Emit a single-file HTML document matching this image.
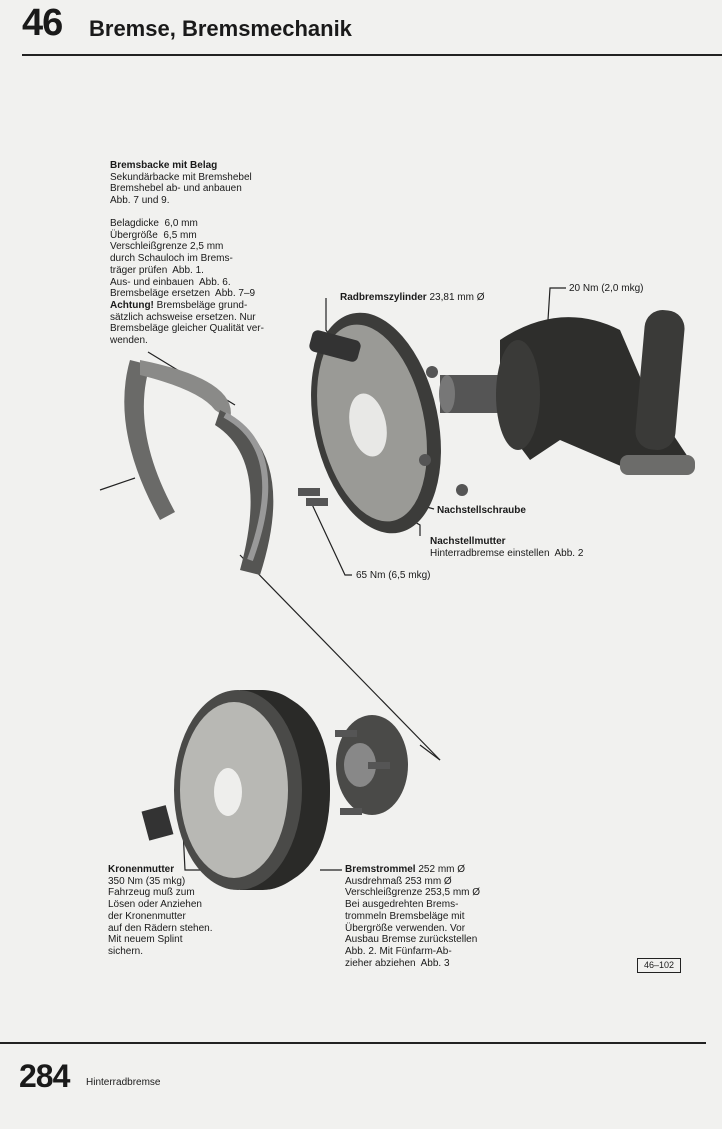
<!DOCTYPE html>
<html><head><meta charset="utf-8"><style>
body{margin:0;background:#f1f1ef;width:722px;height:1129px;position:relative;overflow:hidden;font-family:"Liberation Sans",sans-serif;color:#1a1a1a}
.t{position:absolute;font-size:10px;line-height:11.7px;white-space:nowrap}
b{font-weight:bold}
</style></head><body>
<div style="position:absolute;left:22px;top:2px;font-size:38px;font-weight:bold;letter-spacing:-1px">46</div>
<div style="position:absolute;left:89px;top:16px;font-size:22px;font-weight:bold">Bremse, Bremsmechanik</div>
<div style="position:absolute;left:22px;top:54px;width:700px;height:2px;background:#222"></div>

<svg width="722" height="1129" style="position:absolute;left:0;top:0">
<g fill="none" stroke="#222" stroke-width="1.2">
<line x1="100" y1="490" x2="135" y2="478"/>
<line x1="240" y1="555" x2="440" y2="760"/>
<line x1="420" y1="745" x2="440" y2="760"/>
<line x1="148" y1="352" x2="235" y2="405"/>
<polyline points="326,298 326,330 333,340"/>
<polyline points="566,288 550,288 548,320"/>
<polyline points="434,509 400,500"/>
<polyline points="420,536 420,525 385,505"/>
<polyline points="352,575 345,575 310,500"/>
<polyline points="205,870 185,870 180,770"/>
<polyline points="342,870 320,870"/>
</g>
<!-- shoes -->
<path d="M130,360 Q110,430 160,520 L175,512 Q130,430 150,365 Z" fill="#6a6a68"/>
<path d="M140,360 Q240,380 230,420 L215,410 Q200,390 140,375Z" fill="#8a8a88"/>
<path d="M220,410 Q300,450 260,575 L240,570 Q270,460 215,425Z" fill="#555553"/>
<path d="M225,415 Q290,450 250,560" stroke="#999" stroke-width="6" fill="none"/>
<!-- backing plate -->
<ellipse cx="376" cy="423" rx="62" ry="112" fill="#3c3c3a" transform="rotate(-12 376 423)"/>
<ellipse cx="372" cy="423" rx="52" ry="100" fill="#9a9a96" transform="rotate(-12 372 423)"/>
<ellipse cx="368" cy="425" rx="18" ry="32" fill="#e8e8e6" transform="rotate(-12 368 425)"/>
<rect x="310" y="335" width="50" height="22" rx="6" fill="#333" transform="rotate(15 335 346)"/>
<!-- axle -->
<rect x="440" y="375" width="80" height="38" fill="#555"/>
<ellipse cx="447" cy="394" rx="8" ry="19" fill="#777"/>
<path d="M500,340 Q560,300 620,330 L650,400 L690,460 L630,470 L560,440 L530,460 L500,420Z" fill="#2e2e2c"/>
<ellipse cx="518" cy="395" rx="22" ry="55" fill="#3a3a38"/>
<rect x="640" y="310" width="40" height="140" rx="18" fill="#3a3a38" transform="rotate(5 660 380)"/>
<rect x="620" y="455" width="75" height="20" rx="8" fill="#6c6c6a"/>
<circle cx="432" cy="372" r="6" fill="#555"/><circle cx="462" cy="490" r="6" fill="#555"/><circle cx="425" cy="460" r="6" fill="#555"/>
<rect x="298" y="488" width="22" height="8" fill="#555"/><rect x="306" y="498" width="22" height="8" fill="#555"/>
<!-- drum -->
<ellipse cx="262" cy="790" rx="68" ry="100" fill="#2a2a28"/>
<path d="M240,690 L262,690 Q330,700 330,790 Q330,880 262,890 L240,890Z" fill="#2a2a28"/>
<ellipse cx="238" cy="790" rx="64" ry="100" fill="#4a4a48"/>
<ellipse cx="234" cy="790" rx="54" ry="88" fill="#b8b8b4"/>
<ellipse cx="228" cy="792" rx="14" ry="24" fill="#eeeeec"/>
<!-- hub -->
<ellipse cx="372" cy="765" rx="36" ry="50" fill="#4a4a48"/>
<ellipse cx="360" cy="765" rx="16" ry="22" fill="#888"/>
<rect x="335" y="730" width="22" height="7" fill="#555"/><rect x="368" y="762" width="22" height="7" fill="#555"/><rect x="340" y="808" width="22" height="7" fill="#555"/>
<rect x="145" y="808" width="25" height="30" fill="#333" transform="rotate(-15 157 823)"/>
</g>
</svg>

<div class="t" style="left:110px;top:160px"><b>Bremsbacke mit Belag</b><br>Sekundärbacke mit Bremshebel<br>Bremshebel ab- und anbauen<br>Abb. 7 und 9.</div>
<div class="t" style="left:110px;top:218px">Belagdicke&nbsp; 6,0 mm<br>Übergröße&nbsp; 6,5 mm<br>Verschleißgrenze 2,5 mm<br>durch Schauloch im Brems-<br>träger prüfen&nbsp; Abb. 1.<br>Aus- und einbauen&nbsp; Abb. 6.<br>Bremsbeläge ersetzen&nbsp; Abb. 7–9<br><b>Achtung!</b> Bremsbeläge grund-<br>sätzlich achsweise ersetzen. Nur<br>Bremsbeläge gleicher Qualität ver-<br>wenden.</div>
<div class="t" style="left:340px;top:292px"><b>Radbremszylinder</b> 23,81 mm Ø</div>
<div class="t" style="left:569px;top:283px">20 Nm (2,0 mkg)</div>
<div class="t" style="left:437px;top:505px"><b>Nachstellschraube</b></div>
<div class="t" style="left:430px;top:536px"><b>Nachstellmutter</b><br>Hinterradbremse einstellen&nbsp; Abb. 2</div>
<div class="t" style="left:356px;top:570px">65 Nm (6,5 mkg)</div>
<div class="t" style="left:108px;top:864px"><b>Kronenmutter</b><br>350 Nm (35 mkg)<br>Fahrzeug muß zum<br>Lösen oder Anziehen<br>der Kronenmutter<br>auf den Rädern stehen.<br>Mit neuem Splint<br>sichern.</div>
<div class="t" style="left:345px;top:864px"><b>Bremstrommel</b> 252 mm Ø<br>Ausdrehmaß 253 mm Ø<br>Verschleißgrenze 253,5 mm Ø<br>Bei ausgedrehten Brems-<br>trommeln Bremsbeläge mit<br>Übergröße verwenden. Vor<br>Ausbau Bremse zurückstellen<br>Abb. 2. Mit Fünfarm-Ab-<br>zieher abziehen&nbsp; Abb. 3</div>
<div style="position:absolute;left:637px;top:958px;width:42px;height:13px;border:1px solid #222;font-size:9px;line-height:13px;text-align:center">46–102</div>

<div style="position:absolute;left:0;top:1042px;width:706px;height:2px;background:#222"></div>
<div style="position:absolute;left:19px;top:1058px;font-size:32px;font-weight:bold;letter-spacing:-1px">284</div>
<div style="position:absolute;left:86px;top:1077px;font-size:10px">Hinterradbremse</div>
</body></html>
